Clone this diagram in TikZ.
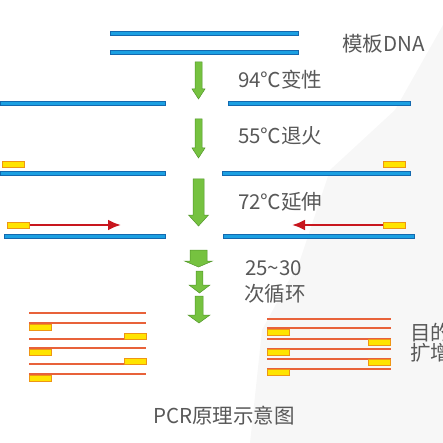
\documentclass[tikz,border=0pt]{standalone}
\usepackage{fontspec}
\setmainfont{Noto Sans CJK SC}
\usetikzlibrary{arrows.meta}
\definecolor{dnablue}{RGB}{27,160,226}
\definecolor{dnaedge}{RGB}{20,105,175}
\definecolor{primeryel}{RGB}{255,228,0}
\definecolor{primerorg}{RGB}{238,150,20}
\definecolor{extred}{RGB}{200,22,30}
\definecolor{arrgreen}{RGB}{118,194,64}
\definecolor{arredge}{RGB}{82,150,42}
\definecolor{prodline}{RGB}{232,98,58}
\definecolor{labelgray}{RGB}{88,88,88}

% x, ytop, ybot, half shaft, half head, head start
\newcommand{\garrow}[6]{%
  \filldraw[garrowst] (#1-#4,#2) -- (#1+#4,#2) -- (#1+#4,#6) -- (#1+#5,#6) -- (#1,#3)
    -- (#1-#5,#6) -- (#1-#4,#6) -- cycle;}

\tikzset{
  strand/.style={fill=dnablue,draw=dnaedge,line width=0.5pt},
  primer/.style={rectangle,fill=primeryel,draw=primerorg,line width=0.8pt,
    minimum width=22pt,minimum height=6pt,inner sep=0pt},
  garrowst/.style={fill=arrgreen,draw=arredge,line width=0.5pt},
  extarrow/.style={extred,line width=2.6pt,-{Latex[length=13pt,width=11pt]}},
  prod/.style={prodline,line width=1.1pt},
  lbl/.style={anchor=west,text=labelgray,font=\fontsize{20.5}{23}\selectfont,inner sep=0pt}
}

\begin{document}
\begin{tikzpicture}[x=1pt,y=-1pt]
  \useasboundingbox (0,0) rectangle (443,443);
  \clip (0,0) rectangle (443,443);
  % faint backdrop
  \fill[gray!6] (443,25) -- (395,110) -- (330,170) -- (300,260) -- (262,330) -- (250,443) -- (443,443) -- cycle;

  % template
  \draw[strand] (110,31) rectangle (298,35);
  \draw[strand] (110,50) rectangle (298,54);
  \node[lbl] (tmpl) at (342,44) {模板DNA};

  % denature
  \garrow{198.5}{62}{99}{3.5}{6.5}{89}
  \node[lbl] (den) at (238,80) {94℃变性};
  \draw[strand] (0,101.5) rectangle (165,105.5);
  \draw[strand] (228,101.5) rectangle (410,105.5);

  % anneal
  \garrow{198.5}{119}{158}{3.5}{6.5}{148}
  \node[lbl] (ann) at (238,136) {55℃退火};
  \node[primer] (p2l) at (13.5,164) {};
  \node[primer] (p2r) at (394.5,164) {};
  \draw[strand] (0,171) rectangle (165,175);
  \draw[strand] (222,171) rectangle (410,175);

  % extend
  \garrow{198.5}{179}{226}{5.5}{10}{215}
  \node[lbl] (ext) at (238,202) {72℃延伸};
  \node[primer] (p3l) at (18.5,225) {};
  \node[primer] (p3r) at (394.5,225) {};
  \coordinate (e3l) at (121,225);
  \coordinate (e3r) at (292,225);
  \draw[extarrow] (p3l.east) -- (e3l);
  \draw[extarrow] (p3r.west) -- (e3r);
  \draw[strand] (4,234) rectangle (165,238);
  \draw[strand] (223,234) rectangle (414,238);

  % cycles
  \garrow{198.5}{250}{267}{8.5}{14}{261}
  \garrow{199.5}{271}{293}{3.3}{10.5}{285}
  \garrow{199}{296}{323}{4}{11}{315}
  \node[lbl] (cyc1) at (245,268) {25\textasciitilde30};
  \node[lbl] (cyc2) at (244,294) {次循环};

  % products, left
  \foreach \y in {313,323,339,348,364,374}
    \draw[prod] (29,\y) -- (146,\y);
  \foreach \y/\n in {327/a,352/b,378/c}
    \node[primer] (ql\n) at (40,\y) {};
  \foreach \y/\n in {336/a,361/b}
    \node[primer] (qr\n) at (135.5,\y) {};

  % products, right
  \foreach \y in {319,328,339,349,359,369}
    \draw[prod] (267,\y) -- (391,\y);
  \foreach \y/\n in {332/a,352/b,372/c}
    \node[primer] (sl\n) at (278,\y) {};
  \foreach \y/\n in {342/a,362/b}
    \node[primer] (sr\n) at (379.5,\y) {};
  \node[lbl] (tgt1) at (410,333) {目的};
  \node[lbl] (tgt2) at (410,353) {扩增};

  \node[text=labelgray,font=\fontsize{20.5}{23}\selectfont,inner sep=0pt] (title) at (224,416) {PCR原理示意图};
\end{tikzpicture}
\end{document}
